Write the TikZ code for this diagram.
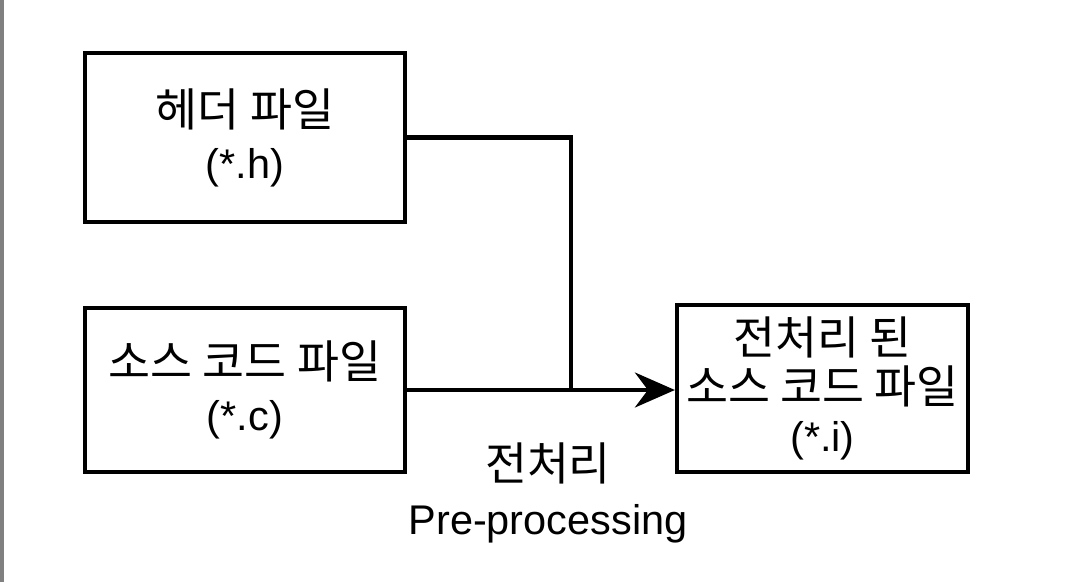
\documentclass[tikz,border=0pt]{standalone}
\usepackage{fontspec}
\setmainfont{Liberation Sans}
\newfontfamily\kr[Scale=1.1]{Noto Sans CJK KR}
\usepackage{tikz}
\usetikzlibrary{arrows.meta,positioning}
\definecolor{edgegray}{HTML}{808080}

\begin{document}
\begin{tikzpicture}[
  file/.style={draw,line width=1.2pt,align=center,inner sep=0pt,font=\fontsize{11.8}{14.8}\selectfont},
  link/.style={line width=1.2pt},
  arrow/.style={-{Stealth[length=4mm,width=3.5mm,inset=1.3mm]},line width=1.2pt},
  note/.style={align=center,font=\fontsize{11.8}{15.5}\selectfont}
]
\useasboundingbox (0,0) rectangle (10.7,-5.82);
\draw[edgegray,line width=1.5pt] (0.01,0) -- (0.01,-5.82);
\node[file,minimum width=3.2cm,minimum height=1.69cm] (header) at (2.45,-1.375) {{\kr 헤더 파일}\\(*.h)};
\node[file,minimum width=3.2cm,minimum height=1.64cm] (source) at (2.45,-3.9) {{\kr 소스 코드 파일}\\(*.c)};
\node[file,minimum width=2.91cm,minimum height=1.67cm,font=\fontsize{11.8}{13.8}\selectfont] (preproc) at (8.225,-3.885) {{\kr 전처리 된}\\{\kr 소스 코드 파일}\\(*.i)};
\coordinate (join) at (5.71,-3.9);
\draw[link] (header.east) -| (join);
\draw[arrow] (source.east) -- (source.east -| preproc.west);
\node[note] (step) at (5.48,-4.93) {{\kr 전처리}\\Pre-processing};
\end{tikzpicture}
\end{document}
